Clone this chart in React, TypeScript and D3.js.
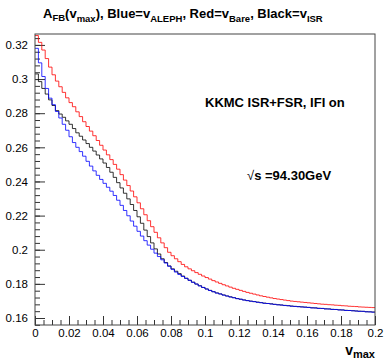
import React, { useRef, useEffect } from "react";
import { select, scaleLinear, line, curveStepAfter, axisLeft, axisBottom, range, format } from "d3";

// histogram binning: 100 bins over v_max in [0, 0.2]
const vMin = 0;
const vMax = 0.2;
const nBins = 100;

// A_FB per bin
const redBare = [
    0.3255, 0.3215, 0.317, 0.312, 0.307, 0.3025, 0.2988, 0.2955, 0.2922, 0.289,
    0.2862, 0.2838, 0.2808, 0.278, 0.275, 0.2722, 0.2695, 0.2668, 0.264, 0.2612,
    0.2584, 0.2556, 0.2528, 0.25, 0.2472, 0.244, 0.2408, 0.2376, 0.2344, 0.231,
    0.2275, 0.224, 0.2205, 0.217, 0.2135, 0.2102, 0.207, 0.204, 0.2012, 0.1985,
    0.1965, 0.1947, 0.193, 0.1914, 0.19, 0.1888, 0.1877, 0.1866, 0.1856, 0.1846,
    0.1837, 0.1828, 0.1819, 0.1811, 0.1803, 0.1795, 0.1788, 0.1781, 0.1774, 0.1768,
    0.1762, 0.1756, 0.175, 0.1745, 0.174, 0.1735, 0.173, 0.1726, 0.1722, 0.1718,
    0.1714, 0.1711, 0.1708, 0.1705, 0.1702, 0.1699, 0.1697, 0.1695, 0.1693, 0.1691,
    0.1689, 0.1687, 0.1685, 0.1683, 0.1681, 0.168, 0.1678, 0.1677, 0.1675, 0.1674,
    0.1672, 0.1671, 0.1669, 0.1668, 0.1667, 0.1665, 0.1664, 0.1663, 0.1662, 0.1661,
];

const blueAleph = [
    0.318, 0.3095, 0.3015, 0.2945, 0.2888, 0.285, 0.281, 0.2772, 0.2735, 0.27,
    0.2662, 0.2628, 0.26, 0.2575, 0.2548, 0.2518, 0.249, 0.2462, 0.2436, 0.2412,
    0.2389, 0.2366, 0.2343, 0.2318, 0.229, 0.226, 0.223, 0.2199, 0.2168, 0.2138,
    0.2108, 0.208, 0.2053, 0.2027, 0.2003, 0.198, 0.196, 0.1941, 0.1922, 0.1903,
    0.1885, 0.1869, 0.1855, 0.1843, 0.1832, 0.1821, 0.1809, 0.1799, 0.1788, 0.1779,
    0.177, 0.1761, 0.1754, 0.1746, 0.1741, 0.1734, 0.1729, 0.1723, 0.1719, 0.1713,
    0.171, 0.1705, 0.1702, 0.1698, 0.1696, 0.1692, 0.169, 0.1686, 0.1685, 0.1682,
    0.168, 0.1677, 0.1676, 0.1673, 0.1672, 0.1669, 0.1668, 0.1666, 0.1665, 0.1663,
    0.1662, 0.1659, 0.1659, 0.1656, 0.1656, 0.1653, 0.1653, 0.165, 0.165, 0.1647,
    0.1647, 0.1644, 0.1644, 0.1642, 0.1641, 0.1639, 0.1639, 0.1636, 0.1636, 0.1634,
];

const blackIsr = [
    0.303, 0.2985, 0.2945, 0.2912, 0.2878, 0.2845, 0.2815, 0.2795, 0.2776, 0.2755,
    0.2735, 0.271, 0.2685, 0.2665, 0.2643, 0.2622, 0.26, 0.2578, 0.2555, 0.2532,
    0.2508, 0.2482, 0.2454, 0.2424, 0.2393, 0.2362, 0.2331, 0.2298, 0.2265, 0.223,
    0.2193, 0.2155, 0.2115, 0.2077, 0.204, 0.2005, 0.1975, 0.1947, 0.1925, 0.1905,
    0.1888, 0.1874, 0.186, 0.1846, 0.1833, 0.1821, 0.181, 0.1799, 0.1789, 0.1779,
    0.177, 0.1762, 0.1754, 0.1747, 0.1741, 0.1735, 0.1729, 0.1724, 0.1719, 0.1714,
    0.171, 0.1706, 0.1702, 0.1699, 0.1696, 0.1693, 0.169, 0.1687, 0.1685, 0.1683,
    0.168, 0.1678, 0.1676, 0.1674, 0.1672, 0.167, 0.1668, 0.1667, 0.1665, 0.1664,
    0.1662, 0.166, 0.1659, 0.1657, 0.1656, 0.1654, 0.1653, 0.1651, 0.165, 0.1648,
    0.1647, 0.1645, 0.1644, 0.1643, 0.1641, 0.164, 0.1639, 0.1637, 0.1636, 0.1635,
];

// axis tick labels
const xTicks = [0, 0.02, 0.04, 0.06, 0.08, 0.1, 0.12, 0.14, 0.16, 0.18, 0.2];
const yTicks = [0.16, 0.18, 0.2, 0.22, 0.24, 0.26, 0.28, 0.3, 0.32];

const W = 384;
const H = 362;
const frame = { left: 35, right: 375, top: 34, bottom: 325 };
const font = "'Liberation Sans', Arial, Helvetica, sans-serif";

export default function App() {
    const plotRef = useRef(null);

    useEffect(() => {
        const g = select(plotRef.current);
        g.selectAll("*").remove();

        const x = scaleLinear().domain([vMin, vMax]).range([frame.left, frame.right]);
        const y = scaleLinear().domain([0.1559, 0.3264]).range([frame.bottom, frame.top]);
        const binW = (vMax - vMin) / nBins;

        // minor ticks first, then majors with labels (ROOT draws ticks inside the frame)
        const fmt = format("~g");
        const yMinor = range(0, 43).map((i) => 0.156 + i * 0.004).filter((v) => v <= 0.3264);
        g.append("g")
            .attr("transform", `translate(${frame.left},0)`)
            .call(axisLeft(y).tickValues(yMinor).tickSize(-5).tickFormat(() => ""));
        g.append("g")
            .attr("class", "y-axis")
            .attr("transform", `translate(${frame.left},0)`)
            .call(axisLeft(y).tickValues(yTicks).tickSize(-10).tickPadding(7).tickFormat((d) => fmt(d as number)));

        const xMinor = range(0, 41).map((i) => i * 0.005);
        g.append("g")
            .attr("transform", `translate(0,${frame.bottom})`)
            .call(axisBottom(x).tickValues(xMinor).tickSize(-5).tickFormat(() => ""));
        g.append("g")
            .attr("class", "x-axis")
            .attr("transform", `translate(0,${frame.bottom})`)
            .call(axisBottom(x).tickValues(xTicks).tickSize(-9).tickPadding(4).tickFormat((d) => fmt(d as number)));

        g.selectAll(".domain").remove();
        g.selectAll(".tick line").attr("stroke", "#333");
        g.selectAll(".tick text").attr("font-family", font).attr("font-size", 11.5).attr("fill", "#000");

        // histogram outlines
        const histLine = line<[number, number]>()
            .x((d) => x(d[0]))
            .y((d) => y(d[1]))
            .curve(curveStepAfter);
        const toSteps = (vals: number[]) => {
            const pts: [number, number][] = vals.map((v, i) => [vMin + i * binW, v]);
            pts.push([vMax, vals[vals.length - 1]]);
            return pts;
        };
        const series = [
            { vals: redBare, color: "#ff0000" },
            { vals: blackIsr, color: "#000000" },
            { vals: blueAleph, color: "#0000ff" },
        ];
        g.selectAll(".hist")
            .data(series)
            .join("path")
            .attr("class", "hist")
            .attr("d", (s) => histLine(toSteps(s.vals)))
            .attr("fill", "none")
            .attr("stroke", (s) => s.color)
            .attr("stroke-width", 1)
            .attr("stroke-opacity", 0.8);

        // frame
        g.append("rect")
            .attr("x", frame.left)
            .attr("y", frame.top)
            .attr("width", frame.right - frame.left)
            .attr("height", frame.bottom - frame.top)
            .attr("fill", "none")
            .attr("stroke", "#444")
            .attr("stroke-width", 1);
    }, []);

    return (
        <svg width={W} height={H} style={{ position: "absolute", left: 0, top: 0, background: "#fff" }}>
            <g ref={plotRef} />
            <g className="overlay" fontFamily={font} fontWeight="bold" fill="#000">
                <text x={43} y={18} fontSize={13}>
                    A<tspan dy={3} fontSize={9.5}>FB</tspan>
                    <tspan dy={-3}>(v</tspan>
                    <tspan dy={4} fontSize={9.5}>max</tspan>
                    <tspan dy={-4}>), Blue=v</tspan>
                    <tspan dy={4} fontSize={9.5}>ALEPH</tspan>
                    <tspan dy={-4}>, Red=v</tspan>
                    <tspan dy={4} fontSize={9.5}>Bare</tspan>
                    <tspan dy={-4}>, Black=v</tspan>
                    <tspan dy={4} fontSize={9.5}>ISR</tspan>
                </text>
                <text x={205} y={107} fontSize={13}>
                    KKMC ISR+FSR, IFI on
                </text>
                <text x={247} y={180} fontSize={13}>
                    <tspan fontWeight="normal">√</tspan>s =94.30GeV
                </text>
                <text x={375} y={355} fontSize={14} textAnchor="end">
                    v<tspan dy={3} fontSize={11}>max</tspan>
                </text>
            </g>
        </svg>
    );
}
